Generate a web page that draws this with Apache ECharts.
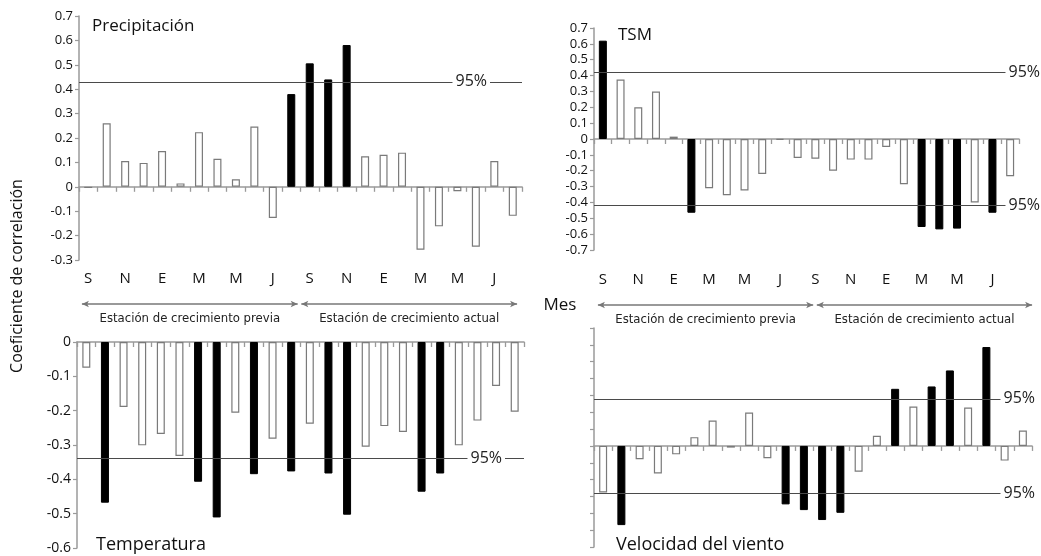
<!DOCTYPE html>
<html>
<head>
<meta charset="utf-8">
<script src="https://cdn.jsdelivr.net/npm/echarts@6/dist/echarts.min.js"></script>
<style>
html,body{margin:0;padding:0;background:#fff;}
#chart{width:1041px;height:556px;}
</style>
</head>
<body>
<div id="chart"></div>
<script>
// ---- Data ----
const months = ['S','O','N','D','E','F','M','A','M','J','J','A','S','O','N','D','E','F','M','A','M','J','J','A'];
const seasons = ['Estación de crecimiento previa', 'Estación de crecimiento actual'];

const precipValues = [-0.005,0.26,0.106,0.098,0.147,0.014,0.224,0.115,0.031,0.247,-0.128,0.38,0.506,0.44,0.581,0.125,0.131,0.14,-0.258,-0.162,-0.018,-0.246,0.106,-0.119];
const precipSig    = [0,0,0,0,0,0,0,0,0,0,0,1,1,1,1,0,0,0,0,0,0,0,0,0];
const precipThresh = [0.43];

const tsmValues = [0.62,0.375,0.2,0.3,0.015,-0.465,-0.31,-0.355,-0.325,-0.22,-0.005,-0.12,-0.125,-0.2,-0.13,-0.13,-0.05,-0.285,-0.555,-0.57,-0.565,-0.4,-0.465,-0.235];
const tsmSig    = [1,0,0,0,0,1,0,0,0,0,0,0,0,0,0,0,0,0,1,1,1,0,1,0];
const tsmThresh = [0.42,-0.42];

const tempValues = [-0.075,-0.468,-0.189,-0.301,-0.268,-0.332,-0.407,-0.511,-0.206,-0.385,-0.282,-0.377,-0.238,-0.383,-0.503,-0.305,-0.245,-0.262,-0.436,-0.383,-0.301,-0.229,-0.128,-0.203];
const tempSig    = [0,1,0,0,0,0,1,1,0,1,0,1,0,1,1,0,0,0,1,1,0,0,0,0];
const tempThresh = [-0.34];

const windValues = [-0.276,-0.47,-0.079,-0.163,-0.05,0.052,0.151,-0.01,0.198,-0.073,-0.347,-0.381,-0.44,-0.397,-0.153,0.06,0.339,0.234,0.353,0.448,0.228,0.587,-0.087,0.091];
const windSig    = [0,1,0,0,0,0,0,0,0,0,1,1,1,1,0,0,1,0,1,1,0,1,0,0];
const windThresh = [0.275,-0.275];

const panelTitles = ['Precipitación','TSM','Temperatura','Velocidad del viento'];
const sigLabel = '95%';

// ---- Styles ----
const FONT = 'Open Sans';
const NARROW = '"Liberation Sans Narrow", "DejaVu Sans Condensed", "Open Sans"';
const AXIS_GRAY = '#9a9a9a';

function barData(vals, sig){
  return vals.map((v,i)=>({
    value: v,
    itemStyle: sig[i] ? {color:'#000', borderColor:'#000', borderWidth:1}
                      : {color:'#fff', borderColor:'#7a7a7a', borderWidth:1.2}
  }));
}

function refLines(th, dist){
  return {
    silent: true,
    symbol: 'none',
    lineStyle: {color:'#4a4a4a', width:1, type:'solid'},
    label: {
      show: true, formatter: sigLabel, position: 'insideEndTop',
      distance: [dist, 0], verticalAlign: 'middle',
      backgroundColor: '#fff', padding: [0,3],
      color: '#222', fontSize: 16, fontFamily: FONT
    },
    data: th.map(t => ({yAxis: t}))
  };
}

function mainX(grid, ticks){
  return {
    type:'category', gridIndex:grid, data: months, position:'bottom',
    axisLine:{show:true, onZero:true, lineStyle:{color:AXIS_GRAY, width:1.5}},
    axisTick:{show:ticks, interval:0, length:5, lineStyle:{color:AXIS_GRAY, width:1.3}},
    axisLabel:{show:false}, splitLine:{show:false}
  };
}
function labelX(grid, margin){
  return {
    type:'category', gridIndex:grid, data: months, position:'bottom',
    axisLine:{show:false, onZero:false}, axisTick:{show:false},
    axisLabel:{show:true, interval:1, margin:margin, color:'#111', fontSize:15, fontFamily:FONT},
    splitLine:{show:false}
  };
}
function valY(grid, min, max, showLabels, fs){
  return {
    type:'value', gridIndex:grid, min:min, max:max, interval:0.1,
    axisLine:{show:true, lineStyle:{color:AXIS_GRAY, width:1.5}},
    axisTick:{show:true, length:4, lineStyle:{color:AXIS_GRAY, width:1.2}},
    axisLabel:{show:showLabels, color:'#111', fontSize:fs, fontFamily:FONT, margin:6,
      formatter: v => (Math.abs(v) < 1e-9 ? '0' : String(Math.round(v*10)/10))},
    splitLine:{show:false}
  };
}
function arrowSeries(xi, yi){
  return {
    type:'line', xAxisIndex:xi, yAxisIndex:yi, data:[], silent:true,
    markLine:{
      silent:true, symbol:['arrow','arrow'], symbolSize:[5,7],
      lineStyle:{color:'#777', width:1.5, type:'solid'},
      label:{show:true, position:'insideMiddleBottom', distance:8, formatter: p => p.name,
        color:'#222', fontSize:13, fontFamily:NARROW},
      data:[
        [{name:seasons[0], coord:[0.05,0]},{coord:[11.9,0]}],
        [{name:seasons[1], coord:[12.1,0]},{coord:[23.95,0]}]
      ]
    }
  };
}

const option = {
  animation:false,
  backgroundColor:'#fff',
  grid:[
    {left:79, top:16, width:443, height:244},
    {left:594, top:28, width:425, height:222},
    {left:77, top:342, width:447, height:206},
    {left:594, top:328, width:438, height:219},
    {left:81, top:303, width:437, height:1},
    {left:597, top:304, width:436, height:1}
  ],
  xAxis:[
    mainX(0,true), labelX(0,11),
    mainX(1,true), labelX(1,22),
    mainX(2,true), mainX(3,true),
    {type:'value', gridIndex:4, min:0, max:24, show:false},
    {type:'value', gridIndex:5, min:0, max:24, show:false}
  ],
  yAxis:[
    valY(0,-0.3,0.7,true,13),
    valY(1,-0.7,0.7,true,13),
    valY(2,-0.6,0,true,14),
    valY(3,-0.6,0.7,false,12),
    {type:'value', gridIndex:4, min:0, max:1, show:false},
    {type:'value', gridIndex:5, min:0, max:1, show:false}
  ],
  series:[
    {type:'bar', xAxisIndex:0, yAxisIndex:0, barWidth:8, clip:false, data:barData(precipValues,precipSig), markLine:refLines(precipThresh,32)},
    {type:'bar', xAxisIndex:2, yAxisIndex:1, barWidth:8, clip:false, data:barData(tsmValues,tsmSig), markLine:refLines(tsmThresh,-24)},
    {type:'bar', xAxisIndex:4, yAxisIndex:2, barWidth:8, clip:false, data:barData(tempValues,tempSig), markLine:refLines(tempThresh,19)},
    {type:'bar', xAxisIndex:5, yAxisIndex:3, barWidth:8, clip:false, data:barData(windValues,windSig), markLine:refLines(windThresh,-6)},
    arrowSeries(6,4),
    arrowSeries(7,5)
  ],
  graphic:[
    {type:'text', x:92, y:26, style:{text:panelTitles[0], font:'17px "Open Sans"', fill:'#111', align:'left', verticalAlign:'middle'}},
    {type:'text', x:618, y:35, style:{text:panelTitles[1], font:'17px "Open Sans"', fill:'#111', align:'left', verticalAlign:'middle'}},
    {type:'text', x:96, y:545, style:{text:panelTitles[2], font:'18px "Open Sans"', fill:'#111', align:'left', verticalAlign:'middle'}},
    {type:'text', x:616, y:545, style:{text:panelTitles[3], font:'18px "Open Sans"', fill:'#111', align:'left', verticalAlign:'middle'}},
    {type:'text', x:560, y:305, style:{text:'Mes', font:'17px "Open Sans"', fill:'#111', align:'center', verticalAlign:'middle'}},
    {type:'text', x:17, y:276, rotation:Math.PI/2, style:{text:'Coeficiente de correlación', font:'16px "Open Sans"', fill:'#111', align:'center', verticalAlign:'middle'}}
  ]
};

const chart = echarts.init(document.getElementById('chart'), null, {renderer:'canvas'});
chart.setOption(option);
</script>
</body>
</html>
